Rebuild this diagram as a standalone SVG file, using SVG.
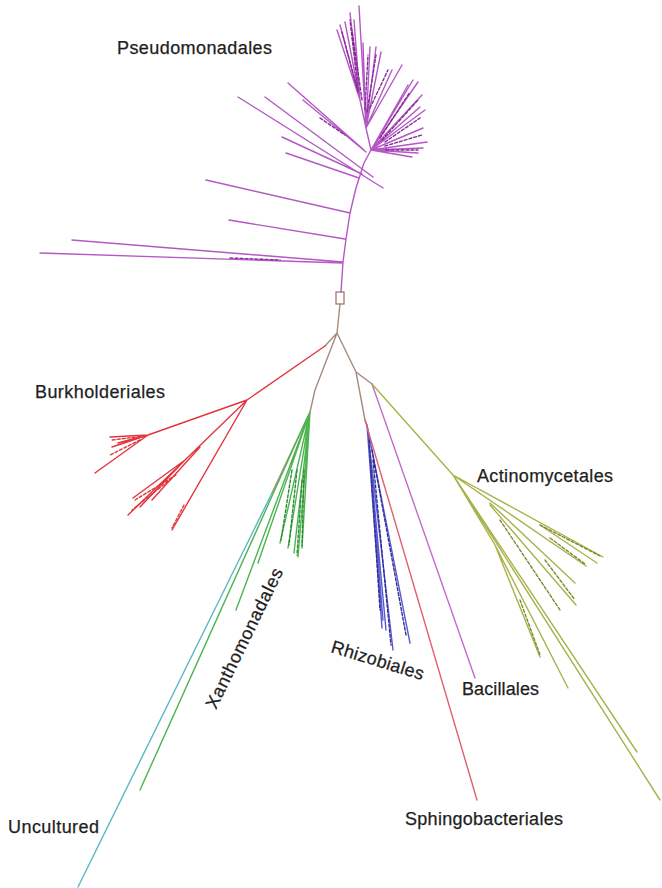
<svg xmlns="http://www.w3.org/2000/svg" width="662" height="888" viewBox="0 0 662 888">
<style>
path{fill:none;stroke-width:1.4;stroke-linecap:round;stroke-linejoin:round}
.p{stroke:#b458c4}
.pd{stroke:#862a98;stroke-dasharray:3 2}
.br{stroke:#a88a7c}
.r{stroke:#e2363f}
.g{stroke:#4cb450}
.gd{stroke:#2a8c30;stroke-dasharray:3 2}
.t{stroke:#5bb6c6}
.b{stroke:#5a5ad0}
.bd{stroke:#2e2e94;stroke-dasharray:3 2}
.s{stroke:#e0606e}
.m{stroke:#c46ccc}
.o{stroke:#a8b24a}
.od{stroke:#7c8a2c;stroke-dasharray:3 2}
text{font-family:"Liberation Sans",Arial,sans-serif;font-size:18px;fill:#1e1e1e;stroke:#1e1e1e;stroke-width:0.25}
</style>
<rect width="662" height="888" fill="#ffffff"/>
<g id="connectors">
<g id="root">
<rect x="336" y="292" width="8" height="12" fill="none" stroke="#a06a58" stroke-width="1.2"/>
<path class="br" d="M340,304 L337,333 M337,333 L325,346 M337,333 L315,390 L310,412 L272,493 M337,333 L356,372 L372,384 M356,372 L365,420 L367,425"/>
</g>
<g id="pseudomonadales">
<path class="p" d="M341,292 L343,262 L346,239 L350,213 L356,188 L364,163 L371,150 L366,128
M40,253 L343,263 M72,240 L343,262 M229,220 L345,239 M206,180 L350,213
M286,153 L359,178 M282,137 L362,174 M238,97 L383,188 M265,97 L373,177 M288,83 L364,150 M303,100 L366,152
M366,128 L360,100 M360,100 L337,30 M360,100 L340,25 M360,100 L345,22 M360,100 L350,13 M360,100 L354,20
M366,128 L359,6 M366,128 L363,43 M366,128 L370,47 M366,128 L376,47 M366,128 L381,52 M366,128 L392,70 M366,128 L402,65
M371,150 L408,85 M371,150 L413,80 M371,150 L418,82 M371,150 L422,95 M371,150 L420,107 M371,150 L425,110
M371,150 L423,128 M371,150 L427,142 M371,150 L423,148 M371,150 L418,153 M371,150 L412,157"/>
<path class="pd" d="M358,92 L342,32 M358,90 L350,20 M362,100 L352,30 M365,110 L368,55 M367,112 L376,55 M370,108 L388,70
M380,138 L410,92 M382,140 L418,100 M385,142 L420,118 M385,146 L422,135 M386,150 L418,150 M230,258 L280,260 M320,118 L345,135"/>
<text x="117" y="54" textLength="155" lengthAdjust="spacing">Pseudomonadales</text>
</g>
<g id="burkholderiales">
<path class="r" d="M325,346 L247,400
M247,400 L148,435 M148,435 L110,437 M148,435 L112,447 M140,437 L118,443 M148,435 L95,473
M247,400 L185,460 M185,460 L133,498 M185,460 L128,515 M185,460 L140,507 M200,447 L152,500
M247,400 L172,530"/>
<path class="r" stroke-dasharray="3 2" stroke="#c81e28" d="M145,436 L112,440 M140,440 L110,455 M176,475 L135,500 M172,478 L132,510 M184,505 L172,528"/>
<text x="35" y="398" textLength="130" lengthAdjust="spacing">Burkholderiales</text>
</g>
<g id="xanthomonadales">
<path class="g" d="M308,416 L140,790 M310,412 L236,610 M310,412 L258,563 M310,412 L280,543 M310,412 L288,548 M310,412 L294,553 M310,412 L298,557 M310,412 L302,548"/>
<path class="gd" d="M292,470 L281,540 M297,470 L289,545 M302,480 L297,555 M304,470 L302,546"/>
<text transform="translate(216,710) rotate(-64)" textLength="154" lengthAdjust="spacing">Xanthomonadales</text>
</g>
<g id="uncultured">
<path class="t" d="M272,493 L78,887"/>
<text x="8" y="833" textLength="91" lengthAdjust="spacing">Uncultured</text>
</g>
<g id="rhizobiales">
<path class="b" d="M367,425 L382,628 M367,425 L386,630 M367,425 L393,650 M367,425 L410,643 M367,425 L383,620"/>
<path class="bd" d="M369,440 L380,610 M373,460 L391,645 M372,450 L406,635"/>
<text transform="translate(330,652) rotate(17)" textLength="96" lengthAdjust="spacing">Rhizobiales</text>
</g>
<g id="sphingobacteriales">
<path class="s" d="M365,420 L477,800"/>
<text x="405" y="825" textLength="158" lengthAdjust="spacing">Sphingobacteriales</text>
</g>
<g id="bacillales">
<path class="m" d="M372,384 L475,678"/>
<text x="462" y="695" textLength="77" lengthAdjust="spacing">Bacillales</text>
</g>
<g id="actinomycetales">
<path class="o" d="M372,384 L453,475
M453,475 L603,557 M540,525 L597,563 M453,475 L586,566 M490,503 L575,583 M490,505 L576,605
M453,475 L495,545 L540,657 M495,545 L568,688 M453,475 L637,752 M453,475 L660,800"/>
<path class="od" d="M540,525 L600,556 M550,538 L585,564 M545,560 L575,600 M520,600 L540,655 M500,520 L560,610"/>
<text x="477" y="482" textLength="136" lengthAdjust="spacing">Actinomycetales</text>
</g>
</g>
</svg>
